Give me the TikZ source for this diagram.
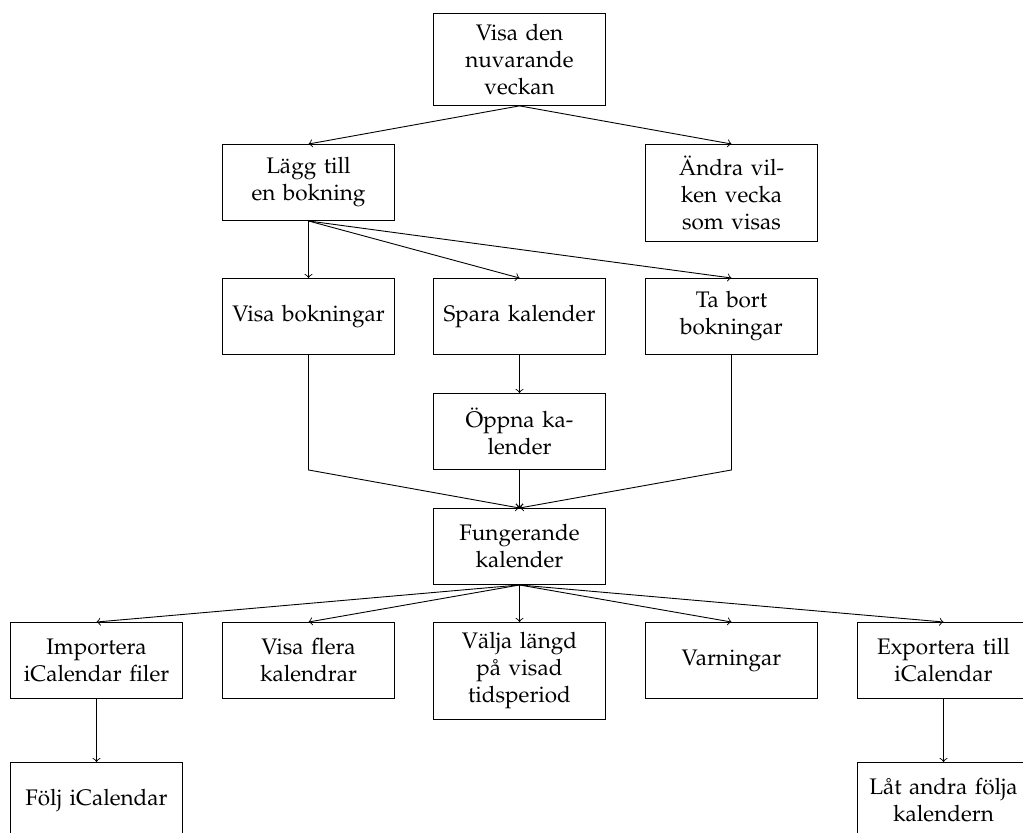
\documentclass[tikz,border=0pt]{standalone}
\usepackage[T1]{fontenc}
\renewcommand{\rmdefault}{ppl}
\begin{document}
\begin{tikzpicture}[x=0.4444pt,y=-0.4444pt,
  box/.style={draw, anchor=north, text width=70pt, align=center, inner xsep=3.333pt, minimum height=33.8pt, font=\fontsize{10}{12}\selectfont},
  tall/.style={minimum height=41pt},
  taller/.style={minimum height=43pt},
  arr/.style={->}]
\useasboundingbox (0,0) rectangle (1023,832);
\node[box,tall] (n1) at (519.5,12.7) {Visa den\\nuvarande\\veckan};
\node[box] (lagg) at (308.5,144) {Lägg till\\en bokning};
\node[box,taller] (andra) at (731.5,144) {Ändra vil-\\ken vecka\\som visas};
\node[box] (vb) at (308.5,278) {Visa bokningar};
\node[box] (spara) at (519.5,278) {Spara kalender};
\node[box] (tabort) at (731.5,278) {Ta bort\\bokningar};
\node[box] (oppna) at (519.5,393) {Öppna ka-\\lender};
\node[box] (fk) at (519.5,508) {Fungerande\\kalender};
\node[box] (imp) at (96.5,622) {Importera\\iCalendar filer};
\node[box] (vfk) at (308.5,622) {Visa flera\\kalendrar};
\node[box,taller] (valja) at (519.5,622) {Välja längd\\på visad\\tidsperiod};
\node[box] (varn) at (731.5,622) {Varningar};
\node[box] (exp) at (943.5,622) {Exportera till\\iCalendar};
\node[box] (folj) at (96.5,762) {Följ iCalendar};
\node[box] (lat) at (943.5,762) {Låt andra följa\\kalendern};
\draw[arr] (n1.south) -- (lagg.north);
\draw[arr] (n1.south) -- (andra.north);
\draw[arr] (lagg.south) -- (vb.north);
\draw[arr] (lagg.south) -- (spara.north);
\draw[arr] (lagg.south) -- (tabort.north);
\draw[arr] (spara.south) -- (oppna.north);
\draw[arr] (oppna.south) -- (fk.north);
\draw[arr] (vb.south) -- (vb.south |- oppna.south) -- (fk.north);
\draw[arr] (tabort.south) -- (tabort.south |- oppna.south) -- (fk.north);
\draw[arr] (fk.south) -- (imp.north);
\draw[arr] (fk.south) -- (vfk.north);
\draw[arr] (fk.south) -- (valja.north);
\draw[arr] (fk.south) -- (varn.north);
\draw[arr] (fk.south) -- (exp.north);
\draw[arr] (imp.south) -- (folj.north);
\draw[arr] (exp.south) -- (lat.north);
\end{tikzpicture}
\end{document}
